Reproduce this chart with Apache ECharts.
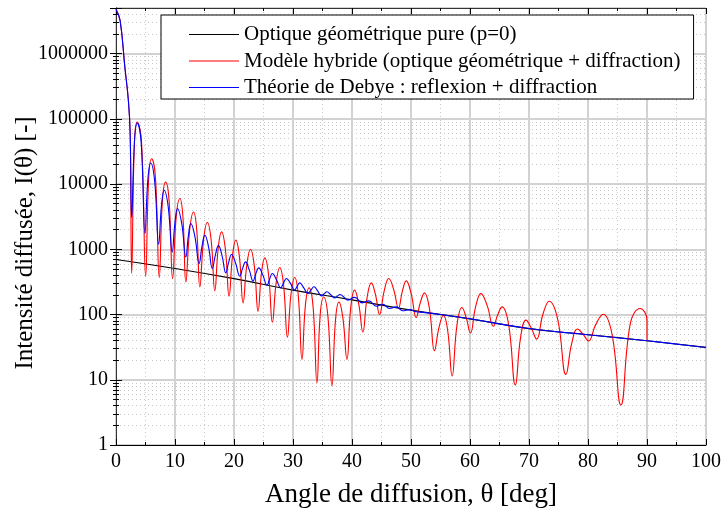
<!DOCTYPE html>
<html>
<head>
<meta charset="utf-8">
<script src="https://cdn.jsdelivr.net/npm/echarts@6/dist/echarts.min.js"></script>
<style>
html,body{margin:0;padding:0;background:#fff;}
#chart{width:724px;height:516px;}
</style>
</head>
<body>
<div id="chart"></div>
<script>
// ---- data ----
const seriesNames = [
  'Optique géométrique pure (p=0)',
  'Modèle hybride (optique géométrique + diffraction)',
  'Théorie de Debye : reflexion + diffraction'
];

const xTicks = [0, 10, 20, 30, 40, 50, 60, 70, 80, 90, 100];
const yTicks = [1, 10, 100, 1000, 10000, 100000, 1000000];

const blackAngles = [0, 10, 20, 30, 40, 50, 60, 70, 80, 90, 100];
const blackValues = [698, 508, 355, 237, 168, 117, 86, 61, 49, 39.6, 31.3];

const redAngles = [
  0, 0.7, 1.5, 2.1, 2.4, 2.66, 3.13, 3.60, 4.32, 5.03, 5.54, 6.04, 6.69, 7.33, 7.87, 8.41, 9.0, 9.59,
  10.21, 10.83, 11.34, 11.84, 12.5, 13.15, 13.68, 14.21, 14.85, 15.48, 16.12, 16.75, 17.32, 17.88, 18.53, 19.17,
  19.74, 20.30, 20.92, 21.54, 22.17, 22.79, 23.44, 24.08, 24.65, 25.21, 25.86, 26.51, 27.13, 27.75, 28.4, 29.05,
  29.67, 30.29, 30.9, 31.52, 32.1, 32.71, 33.4, 34.06, 34.6, 35.19, 35.9, 36.6, 37.2, 37.78, 38.46, 39.14,
  39.79, 40.44, 41.14, 41.84, 42.55, 43.27, 43.97, 44.67, 45.45, 46.24, 47.06, 47.88, 48.53, 49.19, 50.03, 50.88,
  51.58, 52.28, 53.13, 53.98, 54.74, 55.5, 56.24, 56.97, 57.8, 58.63, 59.35, 60.07, 60.95, 61.84, 62.9, 63.96,
  64.7, 65.43, 66.55, 67.68, 68.58, 69.49, 70.39, 71.29, 72.36, 73.43, 74.85, 76.26, 77.24, 78.22, 79.15, 80.08,
  81.3, 82.57, 84.07, 85.57, 87.2, 88.83, 90, 90
];
const redValues = [
  4800000, 3200000, 620000, 190000, 60000, 427, 44900, 89300, 44800, 387, 12400, 24500, 12400, 370, 5540, 10700, 5530, 355,
  3180, 6000, 3160, 316, 2030, 3740, 2000, 265, 1420, 2570, 1400, 231, 1040, 1850, 1020, 191,
  786, 1380, 766, 151, 576, 1000, 556, 112, 425, 738, 407, 76, 300, 525, 285, 45,
  208, 370, 195, 20.5, 138, 256, 132, 9.0, 97, 186, 97, 8.1, 82, 155, 88, 20.5,
  129, 237, 146, 54, 180, 306, 203, 100, 229, 357, 242, 126, 227, 328, 209, 90,
  153, 215, 122, 28, 63, 98, 55, 11.4, 70, 128, 90, 52, 131, 209, 138, 66,
  99, 131, 70, 8.3, 45, 82, 62, 42, 101, 160, 86, 12.1, 36, 60, 50, 39.5,
  70, 101, 50, 4.1, 75, 124, 82, 39.6
];

const blueAngles = [
  0, 0.7, 1.5, 2.1, 2.4, 2.66, 3.13, 3.60, 4.26, 4.91, 5.39, 5.87, 6.55, 7.23, 7.7, 8.17, 8.85, 9.53,
  9.99, 10.44, 11.14, 11.84, 12.27, 12.69, 13.39, 14.09, 14.58, 15.06, 15.7, 16.33, 16.85, 17.36, 17.99, 18.61,
  19.1, 19.58, 20.28, 20.98, 21.47, 21.95, 22.59, 23.23, 23.7, 24.2, 24.9, 25.6, 26.05, 26.51, 27.2, 27.92,
  28.4, 28.88, 29.6, 30.29, 30.7, 31.13, 31.8, 32.54, 33.05, 33.55, 34.18, 34.81, 35.28, 35.75, 36.4, 37.06,
  37.5, 37.99, 38.65, 39.31, 40.44, 41.74, 42.86, 44.11, 45.23, 46.36, 47.5, 48.61, 49.75, 50.88, 52.0,
  55, 60, 70, 80, 90, 100
];
const blueValues = [
  4800000, 3200000, 620000, 190000, 60000, 3070, 44500, 86000, 43900, 1750, 11400, 21000, 11100, 1190, 4610, 8030, 4470, 912,
  2570, 4220, 2490, 765, 1620, 2480, 1540, 606, 1120, 1640, 1074, 508, 824, 1140, 788, 435,
  634, 832, 610, 387, 514, 641, 483, 325, 422, 519, 400, 282, 354, 426, 341, 256,
  306, 357, 297, 237, 271, 306, 258, 210, 238, 266, 230, 193, 208, 223, 201, 180,
  191, 203, 184, 166, 183, 151, 162, 134, 144, 124, 131, 114, 119, 110, 108,
  100, 86, 61, 49, 39.6, 31.3
];

function pairs(xs, ys) { return xs.map((x, i) => [x, ys[i]]); }

const FONT = '"Liberation Serif", "Times New Roman", serif';
const chart = echarts.init(document.getElementById('chart'), null, {renderer: 'canvas'});

const majorGrid = {show: true, lineStyle: {color: '#d2d2d2', width: 2}};
const minorGrid = {show: true, lineStyle: {color: '#c8c8c8', width: 1, type: [1, 3]}};

function yAxisDef(pos, labels) {
  return {
    type: 'log', logBase: 10, min: 1, max: 5000000, splitNumber: 7, position: pos,
    axisLine: {show: true, lineStyle: {color: pos === 'left' ? '#000' : '#333', width: 1}},
    axisTick: {show: true, inside: true, length: 6, lineStyle: {color: '#000'}},
    minorTick: {show: true, splitNumber: 9, length: 3, lineStyle: {color: '#000'}},
    splitLine: labels ? majorGrid : {show: false},
    minorSplitLine: labels ? minorGrid : {show: false},
    axisLabel: {
      show: labels, margin: 8, color: '#000', fontFamily: FONT, fontSize: 20,
      formatter: function (v) { return yTicks.indexOf(v) >= 0 ? String(v) : ''; }
    }
  };
}
function xAxisDef(pos, labels) {
  return {
    type: 'value', min: xTicks[0], max: xTicks[xTicks.length - 1], interval: 10, position: pos,
    axisLine: {show: true, onZero: false, lineStyle: {color: pos === 'bottom' ? '#000' : '#333', width: 1}},
    axisTick: {show: true, inside: true, length: 6, lineStyle: {color: '#000'}},
    minorTick: {show: true, splitNumber: 2, length: 3, lineStyle: {color: '#000'}},
    splitLine: labels ? majorGrid : {show: false},
    minorSplitLine: labels ? minorGrid : {show: false},
    axisLabel: {show: labels, margin: 7, color: '#000', fontFamily: FONT, fontSize: 20},
    name: labels ? 'Angle de diffusion, θ [deg]' : '',
    nameLocation: 'middle', nameGap: 36,
    nameTextStyle: {color: '#000', fontFamily: FONT, fontSize: 27}
  };
}

chart.setOption({
  animation: false,
  backgroundColor: '#fff',
  grid: {left: 116, right: 17, top: 8, bottom: 71, containLabel: false},
  xAxis: [xAxisDef('bottom', true), xAxisDef('top', false)],
  yAxis: [yAxisDef('left', true), yAxisDef('right', false)],
  legend: {
    orient: 'vertical', left: 161, top: 15,
    backgroundColor: '#fff', borderColor: '#000', borderWidth: 1,
    padding: [9, 13, 1, 28], itemWidth: 50, itemHeight: 1.2, itemGap: 5.5,
    icon: 'rect',
    textStyle: {color: '#000', fontFamily: FONT, fontSize: 21},
    data: seriesNames
  },
  graphic: [{
    type: 'text', x: 25, y: 243, rotation: Math.PI / 2,
    style: {text: 'Intensité diffusée, I(θ) [-]', font: '25px ' + FONT, fill: '#000',
            textAlign: 'center', textVerticalAlign: 'middle'}
  }],
  series: [
    {name: seriesNames[0], type: 'line', data: pairs(blackAngles, blackValues), symbol: 'none',
     smooth: true, lineStyle: {color: '#000', width: 1.2}, itemStyle: {color: '#000'}, z: 2},
    {name: seriesNames[1], type: 'line', data: pairs(redAngles, redValues), symbol: 'none',
     smooth: 0.45, lineStyle: {color: '#ff0000', width: 1.1}, itemStyle: {color: '#ff0000'}, z: 3},
    {name: seriesNames[2], type: 'line', data: pairs(blueAngles, blueValues), symbol: 'none',
     smooth: 0.45, lineStyle: {color: '#0000ff', width: 1.1}, itemStyle: {color: '#0000ff'}, z: 4}
  ]
});
</script>
</body>
</html>
